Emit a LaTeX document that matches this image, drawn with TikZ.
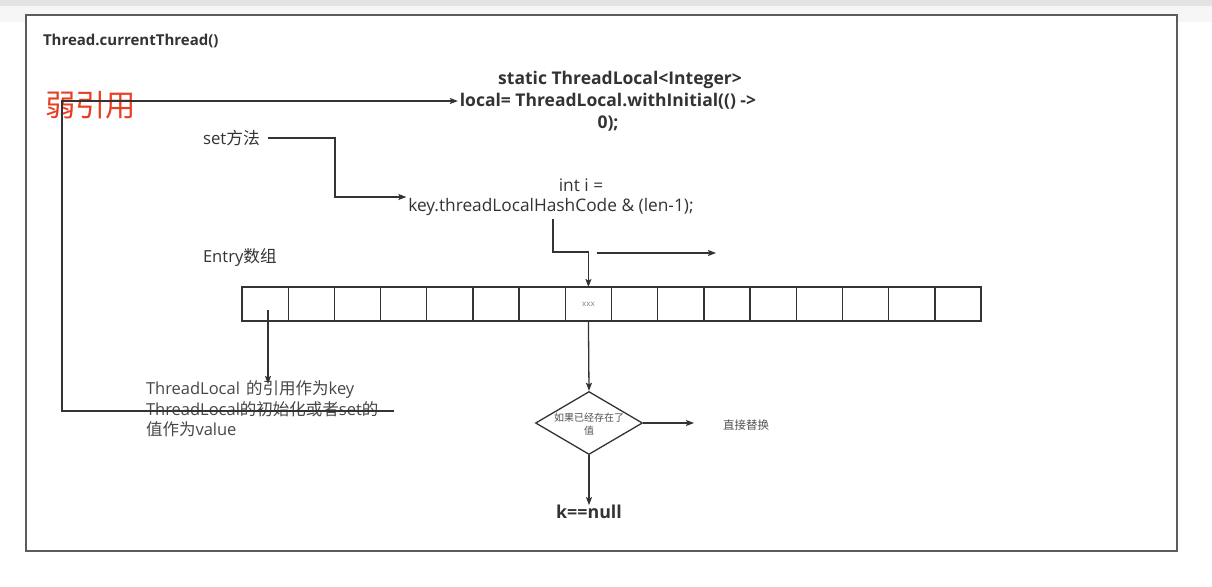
\documentclass[tikz,border=0pt]{standalone}
\usepackage{fontspec}
\setmainfont{Open Sans}
\newfontfamily\cjk{Noto Sans CJK SC}
\usetikzlibrary{arrows.meta,shapes.geometric}
\definecolor{ln}{HTML}{333333}
\definecolor{tx}{HTML}{333333}
\definecolor{redt}{HTML}{EA3E23}
\tikzset{
  conn/.style={draw=ln, line width=1.3pt},
  arr/.style={conn, -{Stealth[length=8pt,width=6pt,inset=1.5pt]}},
  cell/.style={draw=ln, line width=1.3pt, minimum width=46.19pt, minimum height=34pt, inner sep=0pt, outer sep=0pt},
  txt/.style={text=tx, inner sep=0pt, outer sep=0pt},
}
\begin{document}
\begin{tikzpicture}[x=1pt,y=-1pt]
\useasboundingbox (0,0) rectangle (1212,586);
\fill[white] (0,0) rectangle (1212,586);
\fill[gray!22] (0,0) rectangle (1212,6);
\fill[gray!7] (0,6) rectangle (1212,22);
\draw[draw=ln!80, line width=1.5pt, fill=white] (26,15) rectangle (1177,551);

\node[txt, anchor=west, font=\bfseries\fontsize{15}{17}\selectfont] (title) at (43,41) {Thread.currentThread()};
\node[txt, text=redt, anchor=west, font=\cjk\fontsize{30.3}{33}\selectfont] (weak) at (45,105) {弱引用};

\node[txt, align=center, font=\bfseries\fontsize{17.5}{22}\selectfont, inner sep=2pt] (decl) at (608,101) {\hspace*{24pt}static ThreadLocal<Integer>\\local= ThreadLocal.withInitial(() ->\\0);};

\node[txt, anchor=west, font=\fontsize{16.8}{19}\selectfont] (set) at (203,138) {set{\cjk 方法}};
\node[txt, align=center, font=\fontsize{17.3}{19.5}\selectfont, inner sep=2pt] (hash) at (551,197) {\hspace*{60pt}int i =\\key.threadLocalHashCode \& (len-1);};

\node[txt, anchor=west, font=\fontsize{16.6}{19}\selectfont] (entry) at (203,258) {Entry{\cjk 数组}};

\foreach \i in {1,...,16} {
  \node[cell] (c\i) at ({242+46.19*(\i-0.5)},304) {};
}
\node[txt, text=gray, font=\fontsize{8}{9}\selectfont] (xxx) at (c8.center) {xxx};

\node[txt, anchor=north west, align=left, text=tx!90, font=\fontsize{16.5}{20.5}\selectfont] (note) at (146,381) {ThreadLocal\hspace{2pt} {\cjk 的引用作为}key\\ThreadLocal{\cjk 的初始化或者}set{\cjk 的}\\{\cjk 值作为}value};

\node[diamond, draw=ln, line width=1.3pt, minimum width=107pt, minimum height=63pt, inner sep=0pt, aspect=1.7] (dia) at (589,423) {};
\node[txt, align=center, text=ln!85, font=\cjk\fontsize{10}{12.5}\selectfont] (diat) at (589,424) {如果已经存在了\\值};
\node[txt, anchor=west, text=ln!85, font=\cjk\fontsize{11.5}{13}\selectfont] (repl) at (723,425) {直接替换};
\node[txt, font=\bfseries\fontsize{17.8}{20}\selectfont] (knull) at (589,512) {k==null};

% connectors
\coordinate (sets) at (268,138);
\coordinate (set1) at (335,138);
\draw[arr] (sets) -- (set1) |- (hash.west);

\coordinate (h1) at (553,219);
\coordinate (h2) at (553,252);
\draw[arr] (h1) -- (h2) -| (c8.north);

\coordinate (fa1) at (597,253);
\coordinate (fa2) at (716,253);
\draw[arr] (fa1) -- (fa2);

\coordinate (c1s) at (268,310);
\coordinate (c1e) at (268,384);
\draw[arr] (c1s) -- (c1e);

\coordinate (w1) at (394,411);
\coordinate (w2) at (62,411);
\draw[arr] (w1) -- (w2) |- (decl.west);

\draw[arr] (c8.south) -- (dia.north);
\coordinate (de) at (694,423);
\draw[arr] (dia.east) -- (de);
\draw[arr] (dia.south) -- (knull.north);
\end{tikzpicture}
\end{document}
